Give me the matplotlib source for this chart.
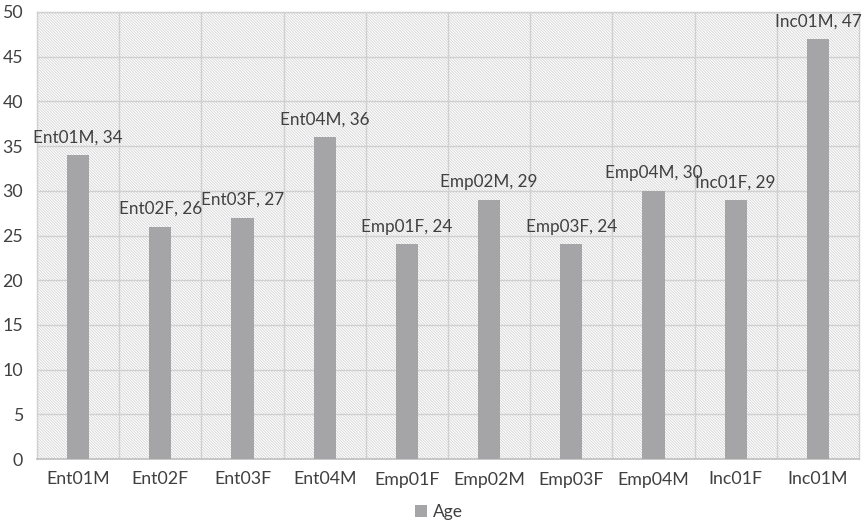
import matplotlib
matplotlib.use("Agg")
import matplotlib.pyplot as plt
from matplotlib.patches import Patch

categories = ["Ent01M", "Ent02F", "Ent03F", "Ent04M", "Emp01F",
              "Emp02M", "Emp03F", "Emp04M", "Inc01F", "Inc01M"]
ages = [34, 26, 27, 36, 24, 29, 24, 30, 29, 47]
y_ticks = [0, 5, 10, 15, 20, 25, 30, 35, 40, 45, 50]
series_name = "Age"

plt.rcParams["font.family"] = ["Lato", "DejaVu Sans"]
plt.rcParams["hatch.linewidth"] = 0.6
plt.rcParams["hatch.color"] = "#D4D4D4"

bar_color = "#A5A5A7"
text_color = "#404040"
grid_color = "#D0D0D0"

fig = plt.figure(figsize=(8.63, 5.26), dpi=100)
ax = fig.add_axes([37 / 863, 1 - 459 / 526, 822 / 863, 447 / 526])

# hatched plot area
ax.patch.set_facecolor("white")
ax.patch.set_hatch("\\\\\\\\\\\\\\\\\\\\\\\\")
ax.patch.set_edgecolor("#D4D4D4")

x = list(range(len(categories)))
ax.bar(x, ages, width=0.27, color=bar_color, zorder=3)

for xi, cat, val in zip(x, categories, ages):
    ax.annotate(f"{cat}, {val}", xy=(xi, val), xytext=(0, 9),
                textcoords="offset points", ha="center", va="baseline",
                fontsize=12.3, color=text_color, zorder=4)

ax.set_xlim(-0.5, len(categories) - 0.5)
ax.set_ylim(0, 50)
ax.set_yticks(y_ticks)
ax.set_xticks(x)
ax.set_xticklabels(categories)

# category boundary grid lines
ax.set_xticks([i + 0.5 for i in range(len(categories) - 1)], minor=True)
ax.grid(axis="x", which="minor", color=grid_color, linewidth=1.0, zorder=1)
ax.grid(axis="y", which="major", color=grid_color, linewidth=1.0, zorder=1)
ax.set_axisbelow(True)

ax.tick_params(axis="both", which="both", length=0, labelsize=12.8,
               labelcolor=text_color)
ax.tick_params(axis="x", pad=9)
ax.tick_params(axis="y", pad=10)

for side in ["top", "right", "left"]:
    ax.spines[side].set_color(grid_color)
    ax.spines[side].set_linewidth(1.0)
ax.spines["bottom"].set_color("#BFBFBF")
ax.spines["bottom"].set_linewidth(1.2)

fig.legend(handles=[Patch(facecolor=bar_color, edgecolor="none", label=series_name)],
           loc="center", bbox_to_anchor=(439 / 863, 1 - 512 / 526), frameon=False,
           fontsize=12.5, handlelength=0.7, handleheight=0.7, handletextpad=0.3,
           labelcolor=text_color, borderpad=0)

fig.savefig("out.png", dpi=100)
